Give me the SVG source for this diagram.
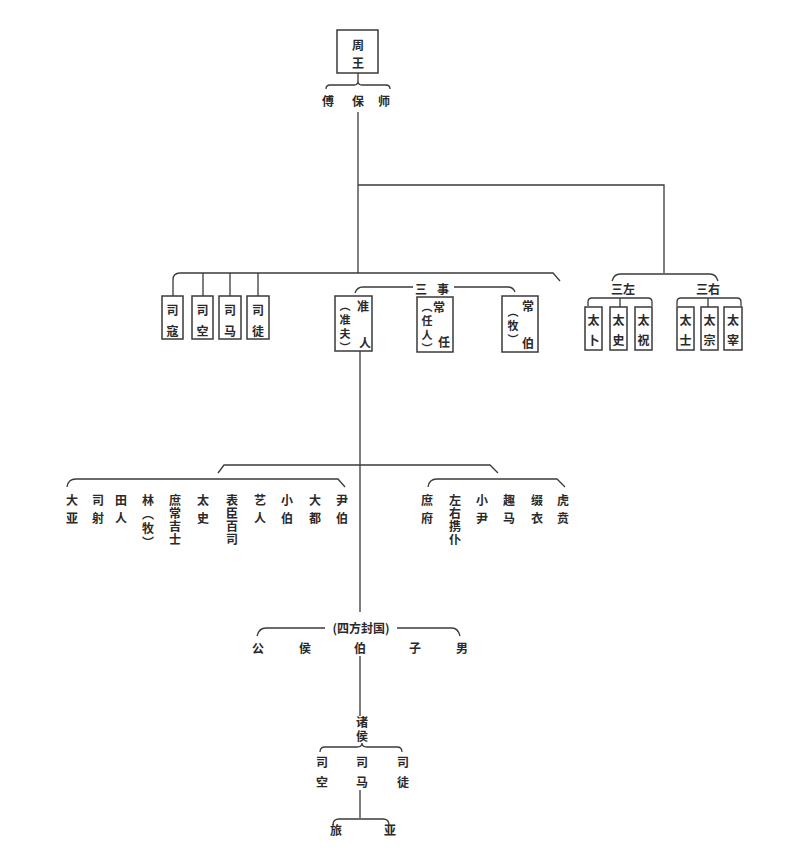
<svg xmlns="http://www.w3.org/2000/svg" width="786" height="858" viewBox="0 0 786 858">
<style>
text{font-family:"Noto Sans CJK SC","Noto Sans CJK TC",sans-serif;font-size:12px;fill:#2a2a2a;text-anchor:middle;dominant-baseline:central;font-weight:bold}
.v{writing-mode:vertical-rl;text-anchor:start}
.v2{writing-mode:vertical-rl;text-anchor:start;letter-spacing:6px}
.v4{writing-mode:vertical-rl;text-anchor:start;letter-spacing:1px}
.vp{writing-mode:vertical-rl;text-anchor:start;letter-spacing:3px;font-size:11px}
.box{fill:#fff;stroke:#3a3a3a;stroke-width:1.5}
.ln{fill:none;stroke:#3a3a3a;stroke-width:1.3}
</style>
<rect width="786" height="858" fill="#fff"/>
<g id="connectors">
  <path class="ln" d="M358,73 V81 M326,89 q0,-4 4,-4 h24 q4,0 4,-4 q0,4 4,4 h24 q4,0 4,4"/>
  <path class="ln" d="M358,112 V273 M358,185 H664 V273"/>
  <path class="ln" d="M173,296 V280 q0,-7 7,-7 H553 L560,281 M203,273 V296 M230,273 V296 M258,273 V296"/>
  <path class="ln" d="M355,293 q2,-6 8,-6 H413 M454,287 H508 q5,0 7,5"/>
  <path class="ln" d="M612,281 q2,-7 8,-7 H710 q6,0 8,7"/>
  <path class="ln" d="M588,306 V302 q0,-4 4,-4 H648 q4,0 4,4 V306 M620,298 V307"/>
  <path class="ln" d="M677,306 V302 q0,-4 4,-4 H737 q4,0 4,4 V306 M708,298 V307"/>
  <path class="ln" d="M360,351 V612 M360,656 V716"/>
  <path class="ln" d="M218,473 L224,465 H490 L498,473"/>
  <path class="ln" d="M67,487 q1,-8 9,-8 H338 L345,487"/>
  <path class="ln" d="M428,487 q1,-8 9,-8 H557 L565,487"/>
  <path class="ln" d="M257,636 q2,-8 9,-8 H325 M397,628 H452 q6,0 8,8"/>
  <path class="ln" d="M320,752 q0,-5 5,-5 H357 q5,0 5,-4 q0,4 5,4 H397 q5,0 5,5"/>
  <path class="ln" d="M360,790 V818 M333,825 q0,-6 6,-6 H383 q6,0 6,6"/>
</g>
<g id="zhouwang"><rect class="box" x="337" y="30" width="41" height="43"/><text x="358" y="44">周</text><text x="358" y="62">王</text></g>
<g id="fubaoshi"><text x="328" y="100">傅</text><text x="358" y="100">保</text><text x="384" y="100">师</text></g>
<g id="sikou"><rect class="box" x="162" y="296" width="21" height="43"/><text x="172.5" y="309">司</text><text x="172.5" y="330">寇</text></g>
<g id="sikong"><rect class="box" x="192" y="296" width="21" height="43"/><text x="202.5" y="309">司</text><text x="202.5" y="330">空</text></g>
<g id="sima"><rect class="box" x="219" y="296" width="22" height="43"/><text x="230" y="309">司</text><text x="230" y="330">马</text></g>
<g id="situ"><rect class="box" x="247" y="296" width="22" height="43"/><text x="258" y="309">司</text><text x="258" y="330">徒</text></g>
<g id="sanshi"><text x="421" y="288">三</text><text x="443" y="288">事</text></g>
<g id="zhunren"><rect class="box" x="335" y="296" width="37" height="55"/><text x="363" y="305">准</text><text x="365" y="342">人</text><text class="vp" x="345" y="300">（准夫）</text></g>
<g id="changren"><rect class="box" x="417" y="297" width="36" height="55"/><text x="439" y="306">常</text><text x="444" y="341">任</text><text class="vp" x="427" y="301">（任人）</text></g>
<g id="changbo"><rect class="box" x="502" y="296" width="36" height="56"/><text x="528" y="305">常</text><text x="528" y="342">伯</text><text class="vp" x="513" y="306">（牧）</text></g>
<g id="sanzuo"><text x="623" y="288">三左</text></g>
<g id="sanyou"><text x="708" y="288">三右</text></g>
<g id="taibu"><rect class="box" x="585" y="307" width="17" height="43"/><text x="593.5" y="319">太</text><text x="593.5" y="339">卜</text></g>
<g id="taishi1"><rect class="box" x="610" y="307" width="17" height="43"/><text x="618.5" y="319">太</text><text x="618.5" y="339">史</text></g>
<g id="taizhu"><rect class="box" x="635" y="307" width="17" height="43"/><text x="643.5" y="319">太</text><text x="643.5" y="339">祝</text></g>
<g id="taishi2"><rect class="box" x="677" y="307" width="17" height="43"/><text x="685.5" y="319">太</text><text x="685.5" y="339">士</text></g>
<g id="taizong"><rect class="box" x="701" y="307" width="17" height="43"/><text x="709.5" y="319">太</text><text x="709.5" y="339">宗</text></g>
<g id="taizai"><rect class="box" x="724" y="307" width="18" height="43"/><text x="733" y="319">太</text><text x="733" y="339">宰</text></g>
<g id="daya"><text class="v2" x="72" y="494">大亚</text></g>
<g id="sishe"><text class="v2" x="98" y="494">司射</text></g>
<g id="tianren"><text class="v2" x="121" y="494">田人</text></g>
<g id="linmu"><text class="v" x="148" y="494" style="letter-spacing:2px">林（牧）</text></g>
<g id="shuchangjishi"><text class="v4" x="175" y="494">庶常吉士</text></g>
<g id="taishi3"><text class="v2" x="203" y="494">太史</text></g>
<g id="biaochenbaisi"><text class="v4" x="232" y="494">表臣百司</text></g>
<g id="yiren"><text class="v2" x="260" y="494">艺人</text></g>
<g id="xiaobo"><text class="v2" x="287" y="494">小伯</text></g>
<g id="dadu"><text class="v2" x="315" y="494">大都</text></g>
<g id="yinbo"><text class="v2" x="342" y="494">尹伯</text></g>
<g id="shufu"><text class="v2" x="427" y="494">庶府</text></g>
<g id="zuoyouxiepu"><text class="v4" x="455" y="494">左右携仆</text></g>
<g id="xiaoyin"><text class="v2" x="482" y="494">小尹</text></g>
<g id="quma"><text class="v2" x="509" y="494">趣马</text></g>
<g id="zhuiyi"><text class="v2" x="537" y="494">缀衣</text></g>
<g id="huben"><text class="v2" x="563" y="494">虎贲</text></g>
<g id="sifangfengguo"><text x="361" y="627">(四方封国)</text></g>
<g id="gong"><text x="258" y="647">公</text></g>
<g id="hou"><text x="305" y="647">侯</text></g>
<g id="bo"><text x="360" y="647">伯</text></g>
<g id="zi"><text x="415" y="647">子</text></g>
<g id="nan"><text x="462" y="647">男</text></g>
<g id="zhuhou"><text class="v" x="362" y="716" style="letter-spacing:2px">诸侯</text></g>
<g id="sikong2"><text class="v" x="322" y="756" style="letter-spacing:8px">司空</text></g>
<g id="sima2"><text class="v" x="362" y="756" style="letter-spacing:8px">司马</text></g>
<g id="situ2"><text class="v" x="403" y="756" style="letter-spacing:8px">司徒</text></g>
<g id="lv"><text x="336" y="829">旅</text></g>
<g id="ya"><text x="390" y="829">亚</text></g>
</svg>
